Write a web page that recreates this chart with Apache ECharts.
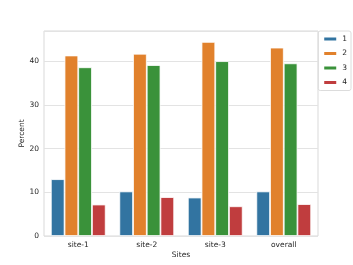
<!DOCTYPE html>
<html>
<head>
<meta charset="utf-8">
<script src="https://cdn.jsdelivr.net/npm/echarts@6/dist/echarts.min.js"></script>
<style>html,body{margin:0;padding:0;background:#fff;}#c{width:353px;height:265px;}</style>
</head>
<body>
<div id="c"></div>
<script>
const categories = ['site-1', 'site-2', 'site-3', 'overall'];
const seriesNames = ['1', '2', '3', '4'];
const values1 = [13.0, 10.2, 8.8, 10.2];
const values2 = [41.3, 41.7, 44.4, 43.1];
const values3 = [38.6, 39.1, 40.0, 39.5];
const values4 = [7.2, 8.9, 6.8, 7.3];
const colors = ['#3274a1', '#e1812c', '#3a923a', '#c03d3e'];
const yTicks = [0, 10, 20, 30, 40];

const allValues = [values1, values2, values3, values4];
const chart = echarts.init(document.getElementById('c'), null, {renderer: 'canvas'});
const font = 'DejaVu Sans';
chart.setOption({
  animation: false,
  textStyle: {fontFamily: font},
  grid: {left: 44, right: 35, top: 31, bottom: 29, show: true, borderColor: '#d9d9d9', borderWidth: 1},
  legend: {
    orient: 'vertical', right: 2, top: 31,
    data: seriesNames,
    icon: 'rect', itemWidth: 14, itemHeight: 5, itemGap: 6.5,
    textStyle: {fontSize: 7.5, color: '#262626', fontFamily: font},
    borderColor: '#dcdcdc', borderWidth: 1, borderRadius: 2,
    padding: [4, 4, 4, 4]
  },
  xAxis: {
    type: 'category', data: categories,
    name: 'Sites', nameLocation: 'middle', nameGap: 15, nameMoveOverlap: false,
    nameTextStyle: {fontSize: 7.5, color: '#262626'},
    axisLine: {show: false}, axisTick: {show: false},
    axisLabel: {fontSize: 7.5, color: '#262626', margin: 5},
    splitLine: {show: false}
  },
  yAxis: {
    type: 'value', min: 0, max: 46.9, interval: 10,
    name: 'Percent', nameLocation: 'middle', nameGap: 18, nameMoveOverlap: false,
    nameTextStyle: {fontSize: 7.5, color: '#262626'},
    axisLine: {show: false}, axisTick: {show: false},
    axisLabel: {fontSize: 7.5, color: '#262626', margin: 5,
      formatter: v => yTicks.includes(v) ? String(v) : ''},
    splitLine: {lineStyle: {color: '#e3e3e3', width: 1}}
  },
  series: seriesNames.map((n, i) => ({
    name: n, type: 'bar', data: allValues[i],
    barGap: '0%', barCategoryGap: '20%',
    itemStyle: {color: colors[i], borderColor: '#ffffff', borderWidth: 0.8}
  }))
});
</script>
</body>
</html>
